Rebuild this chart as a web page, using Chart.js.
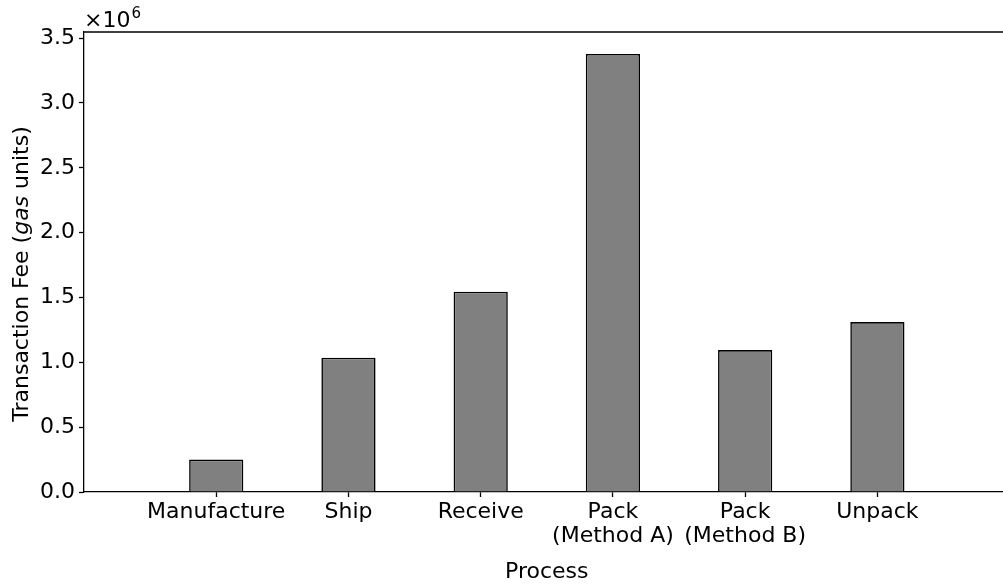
<!DOCTYPE html>
<html>
<head>
<meta charset="utf-8">
<script src="https://cdn.jsdelivr.net/npm/chart.js@4.4.1/dist/chart.umd.min.js"></script>
<style>
  html, body { margin: 0; padding: 0; background: #fff; overflow: hidden; }
  #wrap { width: 1003px; height: 584px; }
</style>
</head>
<body>
<div id="wrap"><canvas id="barChart"></canvas></div>
<script>
// data ---------------------------------------------------------------
const processes = ['Manufacture', 'Ship', 'Receive', ['Pack', '(Method A)'], ['Pack', '(Method B)'], 'Unpack'];
const fees = [250000, 1035000, 1544000, 3378000, 1094000, 1310000];
const yTicks = [0, 0.5e6, 1.0e6, 1.5e6, 2.0e6, 2.5e6, 3.0e6, 3.5e6];

const FONT = 'DejaVu Sans';
const FS = 22;

// extra text drawn on the canvas: offset "x10^6", top spine, axis titles
const extras = {
    id: 'extras',
    afterDraw(chart) {
        const ctx = chart.ctx;
        const area = chart.chartArea;
        const x = chart.scales.x;
        ctx.save();

        // top spine
        ctx.strokeStyle = '#000';
        ctx.lineWidth = 1.3;
        ctx.beginPath();
        ctx.moveTo(area.left, area.top);
        ctx.lineTo(area.right, area.top);
        ctx.stroke();

        // offset text
        ctx.fillStyle = '#000';
        ctx.textBaseline = 'alphabetic';
        ctx.textAlign = 'left';
        ctx.font = FS + 'px "' + FONT + '"';
        ctx.fillText('\u00d710', area.left, 27);
        const w = ctx.measureText('\u00d710').width;
        ctx.font = Math.round(FS * 0.7) + 'px "' + FONT + '"';
        ctx.fillText('6', area.left + w + 1, 18);

        // x title
        ctx.font = FS + 'px "' + FONT + '"';
        ctx.textAlign = 'center';
        ctx.fillText('Process', x.getPixelForValue(2.5), 578);

        // y title with italic "gas"
        const parts = [
            ['Transaction Fee (', 'normal'],
            ['gas', 'italic'],
            [' units)', 'normal']
        ];
        let total = 0;
        parts.forEach(p => {
            ctx.font = p[1] + ' ' + FS + 'px "' + FONT + '"';
            total += ctx.measureText(p[0]).width;
        });
        ctx.translate(28, 274);
        ctx.rotate(-Math.PI / 2);
        ctx.textAlign = 'left';
        let pos = -total / 2;
        parts.forEach(p => {
            ctx.font = p[1] + ' ' + FS + 'px "' + FONT + '"';
            ctx.fillText(p[0], pos, 0);
            pos += ctx.measureText(p[0]).width;
        });
        ctx.restore();
    }
};

const ctx = document.getElementById('barChart').getContext('2d');
new Chart(ctx, {
    type: 'bar',
    data: {
        datasets: [{
            data: fees.map((v, i) => ({ x: i, y: v })),
            backgroundColor: '#808080',
            borderColor: '#000000',
            borderWidth: 1.6,
            borderSkipped: 'bottom',
            barPercentage: 0.41,
            categoryPercentage: 1.0
        }]
    },
    options: {
        responsive: true,
        maintainAspectRatio: false,
        animation: false,
        layout: { padding: { left: 0, top: 32, right: 0, bottom: 0 } },
        plugins: {
            legend: { display: false },
            tooltip: { enabled: false }
        },
        scales: {
            x: {
                type: 'linear',
                offset: false,
                min: -1,
                max: 5.95,
                afterBuildTicks: (scale) => {
                    scale.ticks = processes.map((p, i) => ({ value: i }));
                },
                afterFit: (scale) => { scale.height = 92; },
                grid: {
                    offset: false,
                    drawOnChartArea: false,
                    drawTicks: true,
                    tickLength: 5,
                    tickWidth: 1.3,
                    tickColor: '#000'
                },
                border: { display: true, color: '#000', width: 1.3 },
                ticks: {
                    autoSkip: false,
                    maxRotation: 0,
                    padding: 3,
                    color: '#000',
                    font: { family: FONT, size: FS, lineHeight: 1.1 },
                    callback: (v) => processes[v] !== undefined ? processes[v] : ''
                }
            },
            y: {
                min: 0,
                max: 3.547e6,
                afterBuildTicks: (scale) => {
                    scale.ticks = yTicks.map(v => ({ value: v }));
                },
                afterFit: (scale) => { scale.width = 84; },
                grid: {
                    drawOnChartArea: false,
                    drawTicks: true,
                    tickLength: 5,
                    tickWidth: 1.3,
                    tickColor: '#000'
                },
                border: { display: true, color: '#000', width: 1.3 },
                ticks: {
                    padding: 4,
                    color: '#000',
                    font: { family: FONT, size: FS },
                    callback: (v) => (v / 1e6).toFixed(1)
                }
            }
        }
    },
    plugins: [extras]
});
</script>
</body>
</html>
